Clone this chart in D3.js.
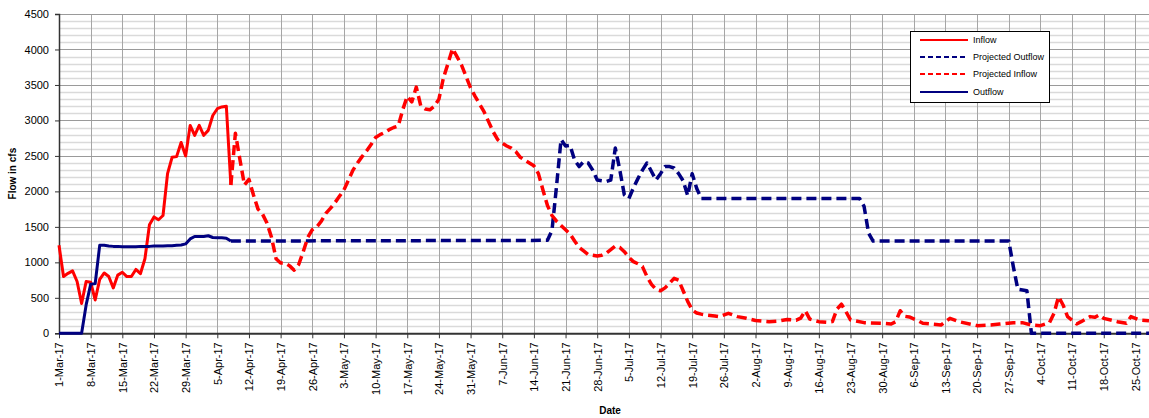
<!DOCTYPE html>
<html><head><meta charset="utf-8">
<script src="https://cdn.jsdelivr.net/npm/d3@7"></script>
<style>
html,body{margin:0;padding:0;background:#fff;}
svg{display:block;font-family:Arial,"Liberation Sans",sans-serif;}
</style></head>
<body>
<svg id="chart" width="1149" height="418"></svg>
<script>
// ---------- DATA ----------
const seriesNames = ["Inflow", "Projected Outflow", "Projected Inflow", "Outflow"];
const yTickValues = [0, 500, 1000, 1500, 2000, 2500, 3000, 3500, 4000, 4500];

const inflowDates = ["1-Mar-17","2-Mar-17","3-Mar-17","4-Mar-17","5-Mar-17","6-Mar-17","7-Mar-17","8-Mar-17","9-Mar-17","10-Mar-17",
  "11-Mar-17","12-Mar-17","13-Mar-17","14-Mar-17","15-Mar-17","16-Mar-17","17-Mar-17","18-Mar-17","19-Mar-17","20-Mar-17",
  "21-Mar-17","22-Mar-17","23-Mar-17","24-Mar-17","25-Mar-17","26-Mar-17","27-Mar-17","28-Mar-17","29-Mar-17","30-Mar-17",
  "31-Mar-17","1-Apr-17","2-Apr-17","3-Apr-17","4-Apr-17","5-Apr-17","6-Apr-17","7-Apr-17","8-Apr-17"];
const inflowValues = [1240,800,845,880,730,420,730,720,470,760,
  850,800,640,820,860,800,800,900,840,1050,
  1530,1640,1600,1660,2250,2480,2490,2690,2500,2930,
  2790,2930,2790,2860,3070,3165,3190,3200,2090];

const outflowDates = ["1-Mar-17","6-Mar-17","7-Mar-17","8-Mar-17","9-Mar-17","10-Mar-17","11-Mar-17",
  "12-Mar-17","13-Mar-17","14-Mar-17","15-Mar-17","16-Mar-17","17-Mar-17","18-Mar-17","19-Mar-17","20-Mar-17",
  "21-Mar-17","22-Mar-17","23-Mar-17","24-Mar-17","25-Mar-17","26-Mar-17","27-Mar-17","28-Mar-17","29-Mar-17","30-Mar-17",
  "31-Mar-17","1-Apr-17","2-Apr-17","3-Apr-17","4-Apr-17","5-Apr-17","6-Apr-17","7-Apr-17","8-Apr-17"];
const outflowValues = [0,0,400,690,700,1240,1240,
  1230,1225,1225,1220,1220,1220,1220,1225,1225,
  1225,1230,1230,1230,1235,1235,1240,1245,1260,1330,
  1365,1365,1365,1375,1350,1345,1345,1340,1300];

const projOutflowDates = ["8-Apr-17","17-Jun-17","18-Jun-17","19-Jun-17","20-Jun-17","21-Jun-17","22-Jun-17","23-Jun-17",
  "24-Jun-17","25-Jun-17","26-Jun-17","27-Jun-17","28-Jun-17","29-Jun-17","30-Jun-17","1-Jul-17","2-Jul-17","3-Jul-17",
  "4-Jul-17","5-Jul-17","6-Jul-17","7-Jul-17","8-Jul-17","9-Jul-17","10-Jul-17","11-Jul-17","12-Jul-17","13-Jul-17",
  "14-Jul-17","15-Jul-17","16-Jul-17","17-Jul-17","18-Jul-17","19-Jul-17","20-Jul-17","21-Jul-17",
  "25-Aug-17","26-Aug-17","27-Aug-17","28-Aug-17","27-Sep-17","28-Sep-17","29-Sep-17","1-Oct-17","2-Oct-17","28-Oct-17"];
const projOutflowValues = [1300,1310,1450,2070,2730,2640,2650,2440,
  2350,2420,2400,2300,2160,2150,2140,2160,2610,2300,
  1950,1900,2050,2180,2300,2400,2280,2160,2250,2350,
  2350,2330,2250,2150,1940,2250,2040,1900,
  1900,1790,1410,1300,1300,940,620,600,0,0];

const projInflowDates = ["8-Apr-17","9-Apr-17","10-Apr-17","11-Apr-17","12-Apr-17","13-Apr-17","14-Apr-17","15-Apr-17",
  "16-Apr-17","17-Apr-17","18-Apr-17","19-Apr-17","20-Apr-17","21-Apr-17","22-Apr-17","23-Apr-17","24-Apr-17","25-Apr-17",
  "26-Apr-17","27-Apr-17","28-Apr-17","29-Apr-17","30-Apr-17","1-May-17","2-May-17","3-May-17","4-May-17","5-May-17",
  "6-May-17","7-May-17","8-May-17","9-May-17","10-May-17","11-May-17","12-May-17","13-May-17","14-May-17","15-May-17",
  "16-May-17","17-May-17","18-May-17","19-May-17","20-May-17","21-May-17","22-May-17","23-May-17","24-May-17","25-May-17",
  "26-May-17","27-May-17","28-May-17","29-May-17","30-May-17","31-May-17","1-Jun-17","2-Jun-17","3-Jun-17","4-Jun-17",
  "5-Jun-17","6-Jun-17","7-Jun-17","8-Jun-17","9-Jun-17","10-Jun-17","11-Jun-17","12-Jun-17","13-Jun-17","14-Jun-17",
  "15-Jun-17","16-Jun-17","17-Jun-17","18-Jun-17","19-Jun-17","20-Jun-17","21-Jun-17","22-Jun-17","23-Jun-17","24-Jun-17",
  "25-Jun-17","26-Jun-17","27-Jun-17","28-Jun-17","29-Jun-17","30-Jun-17","1-Jul-17","2-Jul-17","3-Jul-17","4-Jul-17",
  "5-Jul-17","6-Jul-17","7-Jul-17","8-Jul-17","9-Jul-17","10-Jul-17","11-Jul-17","12-Jul-17","13-Jul-17","14-Jul-17",
  "15-Jul-17","16-Jul-17","17-Jul-17","18-Jul-17","19-Jul-17","20-Jul-17","21-Jul-17","22-Jul-17","24-Jul-17","25-Jul-17",
  "27-Jul-17","29-Jul-17","31-Jul-17","2-Aug-17","5-Aug-17","7-Aug-17","9-Aug-17","11-Aug-17","12-Aug-17","13-Aug-17",
  "14-Aug-17","16-Aug-17","18-Aug-17","19-Aug-17","20-Aug-17","21-Aug-17","22-Aug-17","23-Aug-17","26-Aug-17","30-Aug-17",
  "1-Sep-17","2-Sep-17","3-Sep-17","4-Sep-17","5-Sep-17","7-Sep-17","8-Sep-17","12-Sep-17","14-Sep-17","16-Sep-17",
  "20-Sep-17","23-Sep-17","25-Sep-17","28-Sep-17","30-Sep-17","2-Oct-17","4-Oct-17","6-Oct-17","7-Oct-17","8-Oct-17",
  "9-Oct-17","10-Oct-17","12-Oct-17","13-Oct-17","15-Oct-17","16-Oct-17","17-Oct-17","18-Oct-17","21-Oct-17","23-Oct-17",
  "24-Oct-17","26-Oct-17","28-Oct-17"];
const projInflowValues = [2090,2820,2450,2090,2170,1950,1750,1680,
  1550,1350,1050,990,990,950,890,970,1150,1350,
  1460,1500,1580,1690,1760,1840,1930,2020,2160,2300,
  2400,2490,2570,2660,2760,2800,2830,2870,2900,2920,
  3150,3340,3260,3470,3200,3160,3150,3200,3300,3600,
  3800,4010,3900,3780,3620,3460,3340,3230,3120,2980,
  2840,2730,2680,2640,2610,2560,2480,2440,2400,2360,
  2250,2020,1800,1660,1580,1520,1460,1400,1300,1210,
  1160,1110,1100,1090,1100,1130,1180,1230,1210,1150,
  1070,1010,980,940,800,690,620,600,640,705,
  775,750,600,450,330,285,270,258,245,235,
  282,235,211,180,164,172,195,185,215,318,
  200,164,155,165,340,410,305,188,150,141,
  131,164,318,240,230,175,141,117,211,164,
  108,117,131,150,150,117,108,150,282,516,
  399,235,131,164,235,225,258,211,164,141,
  235,188,178];

(function () {
// ---------- LAYOUT ----------
const svg = d3.select("#chart");
const pLeft = 59, pRight = 1149, pTop = 14, pBottom = 333.3;
const parse = d3.utcParse("%d-%b-%y");
const startDate = parse("1-Mar-17");
const endDate = d3.utcDay.offset(startDate, 241);

const x = d3.scaleUtc().domain([startDate, endDate]).range([pLeft, pRight]);
const y = d3.scaleLinear().domain([0, 4500]).range([pBottom, pTop]);

const weekTicks = d3.utcDay.range(startDate, d3.utcDay.offset(startDate, 239), 7);
const fmt = d3.utcFormat("%-d-%b-%y");

// grid
const g = svg.append("g");
const minor = d3.range(100, 4500, 100).filter(v => v % 500 !== 0);
g.selectAll(".minor").data(minor).join("line")
  .attr("x1", pLeft).attr("x2", pRight)
  .attr("y1", d => Math.round(y(d)) + 0.5).attr("y2", d => Math.round(y(d)) + 0.5)
  .attr("stroke", "#dadada").attr("stroke-width", 1.5);
g.selectAll(".vgrid").data(weekTicks.slice(1)).join("line")
  .attr("x1", d => Math.round(x(d)) + 0.5).attr("x2", d => Math.round(x(d)) + 0.5)
  .attr("y1", pTop).attr("y2", pBottom)
  .attr("stroke", "#a6a6a6").attr("stroke-width", 1);
g.selectAll(".major").data(yTickValues.filter(v => v > 0)).join("line")
  .attr("x1", pLeft).attr("x2", pRight)
  .attr("y1", d => Math.round(y(d)) + 0.5).attr("y2", d => Math.round(y(d)) + 0.5)
  .attr("stroke", "#9a9a9a").attr("stroke-width", 1);

// axes
const yAxis = d3.axisLeft(y).tickValues(yTickValues).tickFormat(d3.format("d")).tickSize(4).tickPadding(6);
const ya = svg.append("g").attr("transform", `translate(${pLeft},0)`).call(yAxis);
ya.select(".domain").attr("stroke", "#333").attr("stroke-width", 1.5);
ya.selectAll(".tick line").attr("stroke", "#333");
ya.selectAll("text").attr("font-size", 11).attr("fill", "#000").attr("font-family", "Arial, Liberation Sans, sans-serif");

const xAxis = d3.axisBottom(x).tickValues(weekTicks).tickFormat(fmt).tickSize(5).tickSizeOuter(0);
const xa = svg.append("g").attr("transform", `translate(0,${pBottom})`).call(xAxis);
xa.select(".domain").attr("stroke", "#333").attr("stroke-width", 2);
xa.selectAll(".tick line").attr("stroke", "#333");
xa.selectAll("text")
  .attr("font-size", 11).attr("fill", "#000").attr("font-family", "Arial, Liberation Sans, sans-serif")
  .attr("transform", "rotate(-90)")
  .attr("text-anchor", "end")
  .attr("dy", "0.35em").attr("x", -9).attr("y", 0);

// titles
svg.append("text").attr("transform", `translate(16,${(pTop + pBottom) / 2}) rotate(-90)`)
  .attr("text-anchor", "middle").attr("font-size", 10).attr("font-weight", "bold").text("Flow in cfs");
svg.append("text").attr("x", 610).attr("y", 414)
  .attr("text-anchor", "middle").attr("font-size", 10).attr("font-weight", "bold").text("Date");

// lines
function mk(dates, vals) { return dates.map((d, i) => ({ date: parse(d), v: vals[i] })); }
const line = d3.line().x(d => x(d.date)).y(d => y(d.v));
const series = [
  { name: seriesNames[0], data: mk(inflowDates, inflowValues), color: "#ff0000", dash: null },
  { name: seriesNames[1], data: mk(projOutflowDates, projOutflowValues), color: "#000080", dash: "10,5" },
  { name: seriesNames[2], data: mk(projInflowDates, projInflowValues), color: "#ff0000", dash: "10,5" },
  { name: seriesNames[3], data: mk(outflowDates, outflowValues), color: "#000080", dash: null }
];
svg.append("g").selectAll("path").data(series).join("path")
  .attr("d", s => line(s.data))
  .attr("fill", "none")
  .attr("stroke", s => s.color)
  .attr("stroke-width", s => s.dash ? 3.5 : 3)
  .attr("stroke-dasharray", s => s.dash)
  .attr("stroke-linejoin", "round");

// legend
const lg = svg.append("g");
lg.append("rect").attr("x", 910.5).attr("y", 31.5).attr("width", 139).attr("height", 71)
  .attr("fill", "#fff").attr("stroke", "#000").attr("stroke-width", 1);
const legY = [40, 57, 74, 92];
series.forEach((s, i) => {
  lg.append("line").attr("x1", 920).attr("x2", 968).attr("y1", legY[i]).attr("y2", legY[i])
    .attr("stroke", s.color).attr("stroke-width", 2)
    .attr("stroke-dasharray", s.dash ? "5,3" : null);
  lg.append("text").attr("x", 973).attr("y", legY[i]).attr("dy", "0.35em")
    .attr("font-size", 9).attr("fill", "#000").text(s.name);
});
})();
</script>
</body></html>
